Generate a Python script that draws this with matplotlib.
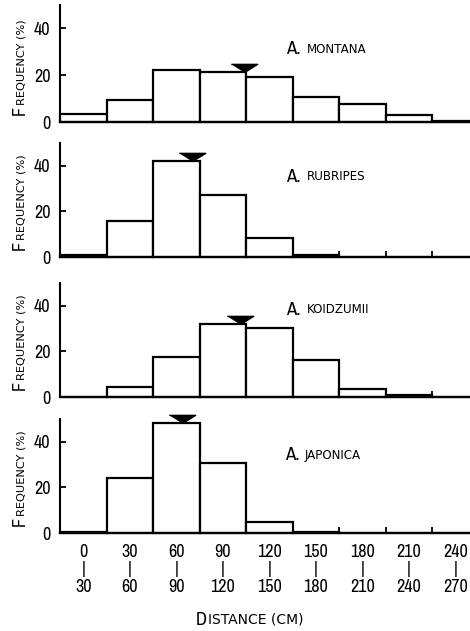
import numpy as np
import matplotlib
matplotlib.use("Agg")
import matplotlib.pyplot as plt

plt.rcParams['font.family'] = ['Archivo Narrow', 'DejaVu Sans']

# bins are 30 cm wide, 0-270 cm
edges = np.arange(0, 271, 30)
species = ['MONTANA', 'RUBRIPES', 'KOIDZUMII', 'JAPONICA']
freq = [
    [3.4, 9.4, 22.1, 21.4, 19.3, 10.8, 7.7, 2.9, 0.5],   # A. montana
    [1.0, 15.8, 42.0, 27.4, 8.4, 0.8, 0.0, 0.0, 0.0],    # A. rubripes
    [0.0, 4.6, 17.7, 31.9, 30.4, 16.2, 3.6, 0.9, 0.0],   # A. koidzumii
    [0.3, 24.2, 48.1, 30.9, 4.8, 0.6, 0.0, 0.0, 0.0],    # A. japonica
]
mean_dist = [119, 85, 116, 79]
label_pos = [(146, 31), (146, 35), (146, 38), (145, 34)]

W, H = 470, 631
fig = plt.figure(figsize=(W / 100, H / 100), dpi=100)

# panel top / bottom in pixels
panels_px = [(5, 122), (143, 257), (283, 397), (419, 533)]
left_px = 60
xmax = 410 / 46.5 * 30

tri = [(-1.6, 0.5), (1.6, 0.5), (0, -0.5)]

for i, (top, bot) in enumerate(panels_px):
    ax = fig.add_axes([left_px / W, 1 - bot / H, (W - left_px) / W, (bot - top) / H])
    vals = freq[i]
    ax.bar(edges[:-1], vals, width=30, align='edge', color='white',
           edgecolor='black', linewidth=1.6, clip_on=False)
    ax.set_xlim(0, xmax)
    ax.set_ylim(0, 50)
    for s in ['top', 'right']:
        ax.spines[s].set_visible(False)
    ax.spines['left'].set_linewidth(1.5)
    ax.spines['bottom'].set_linewidth(1.6)

    ax.set_yticks([0, 20, 40])
    ax.tick_params(axis='y', direction='in', length=4, width=1.3, pad=7, labelsize=13)
    ax.set_xticks(edges[1:-1], minor=True)
    ax.tick_params(axis='x', which='minor', direction='in', length=4, width=1.3)

    # mean marker
    b = int(mean_dist[i] // 30)
    ax.plot([mean_dist[i]], [vals[b] + 1.8], marker=tri, markersize=19,
            color='black', clip_on=False, zorder=5)

    # species label in small caps
    lx, ly = label_pos[i]
    t = ax.text(lx, ly, 'A.', fontsize=13.5, va='center', ha='left')
    ax.annotate(species[i], xy=(1, 0), xycoords=t, xytext=(4, 1.4),
                textcoords='offset points', va='bottom', ha='left',
                fontsize=8.6, family='DejaVu Sans')

    # y label in small caps
    f = ax.text(-0.097, 0.06, 'F', transform=ax.transAxes, rotation=90,
                ha='center', va='bottom', fontsize=13)
    ax.annotate('REQUENCY (%)', xy=(1, 1), xycoords=f, xytext=(-1.3, 0.5),
                textcoords='offset points', rotation=90,
                ha='right', va='bottom', fontsize=8.2, family='DejaVu Sans')

    centers = edges[:-1] + 15
    if i == 3:
        ax.set_xticks(centers)
        ax.set_xticklabels([f'{lo}\n|\n{lo + 30}' for lo in edges[:-1]],
                           linespacing=1.1)
        ax.tick_params(axis='x', which='major', length=0, pad=8, labelsize=13)
    else:
        ax.set_xticks([])

d = fig.text(196 / W, 1 - 620 / H, 'D', fontsize=13.5, ha='left', va='center')
fig.add_artist(plt.Annotation('ISTANCE (CM)', xy=(1, 0), xycoords=d,
                              xytext=(1, 1.4), textcoords='offset points',
                              va='bottom', ha='left', annotation_clip=False,
                              fontsize=10, family='DejaVu Sans'))

fig.savefig('out.png', dpi=100)
